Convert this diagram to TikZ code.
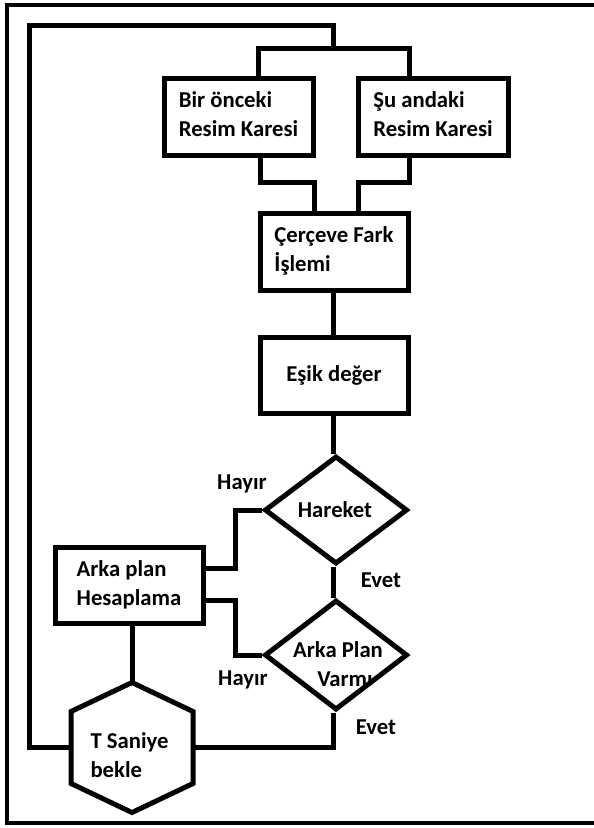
\documentclass[tikz,border=0pt]{standalone}
\usepackage{fontspec}
\setmainfont{Carlito}
\usetikzlibrary{shapes.geometric,calc}
\begin{document}
\begin{tikzpicture}[x=1pt,y=-1pt,
  line width=5pt,
  txt/.style={font=\bfseries\fontsize{22.7}{29}\selectfont},
  boxst/.style={draw,rectangle,line width=5pt,minimum width=148pt,minimum height=77pt,inner sep=0pt,txt},
  dia/.style={draw,diamond,line width=5pt,minimum width=143pt,minimum height=108pt,inner sep=0pt},
  lbl/.style={txt,inner sep=0pt}]
\useasboundingbox (0,0) rectangle (594,828);
\fill[white] (0,0) rectangle (594,828);
% outer frame
\draw[line width=4pt] (594,5) -- (6.5,5) -- (6.5,823) -- (594,823);
% nodes
\node[boxst,minimum width=149pt] (b1) at (238.5,116.5) {\begin{tabular}{@{}l@{}}Bir önceki\\Resim Karesi\end{tabular}};
\node[boxst,minimum width=150pt] (b2) at (433,116.5) {\begin{tabular}{@{}l@{}}Şu andaki\\Resim Karesi\end{tabular}};
\node[boxst] (b3) at (334,251.5) {\begin{tabular}{@{}l@{}}Çerçeve Fark\\İşlemi\end{tabular}};
\node[boxst,minimum height=76pt] (b4) at (334,375) {Eşik değer};
\node[dia] (d1) at (336,510) {};
\node[lbl] (t1) at (335,510) {Hareket};
\node[dia,minimum height=110pt] (d2) at (336,655) {};
\node[lbl] (t2) at (338,666) {\begin{tabular}{@{}c@{}}Arka Plan\\\hspace*{14pt}Varmı\end{tabular}};
\node[boxst,minimum height=76pt] (b5) at (129,585) {\begin{tabular}{@{}l@{}}Arka plan\\Hesaplama\end{tabular}};
\node[minimum width=117pt,minimum height=67pt,inner sep=0pt] (h) at (132,747.5) {};
\node[lbl,anchor=west] (t3) at (88,757) {\begin{tabular}{@{}l@{}}T Saniye\\bekle\end{tabular}};
\coordinate (htop) at ($(h.north)+(0,-29)$);
\coordinate (hbot) at ($(h.south)+(0,29)$);
\draw[line join=miter] (htop) -- (h.north east) -- (h.south east) -- (hbot) -- (h.south west) -- (h.north west) -- cycle;
% labels
\node[lbl] (l1) at (242,484) {Hayır};
\node[lbl] (l2) at (381,580) {Evet};
\node[lbl] (l3) at (243,680) {Hayır};
\node[lbl] (l4) at (376,727) {Evet};
% coordinates
\coordinate (lp) at (29,25);
\coordinate (tm) at (333,48);
\coordinate (tl) at (258,48);
\coordinate (tr) at (409,48);
\coordinate (bl) at (260,182);
\coordinate (bl2) at (314,182);
\coordinate (br) at (409,182);
\coordinate (br2) at (358,182);
\coordinate (j1) at (235,568);
\coordinate (j2) at (235,600);
% connectors
\draw[line join=miter] (h.west) -| (lp) -| (tm);
\draw[line join=miter] (tl |- b1.north) |- (tr) -- (tr |- b2.north);
\draw[line join=miter] (bl |- b1.south) -- (bl) -- (bl2) -- (bl2 |- b3.north);
\draw[line join=miter] (br |- b2.south) -- (br) -- (br2) -- (br2 |- b3.north);
\draw (b3.south -| tm) -- (b4.north -| tm);
\draw (b4.south -| tm) -- (d1.north -| tm);
\draw[line join=miter] (d1.west) -| (j1) -- (j1 -| b5.east);
\draw (d1.south -| tm) -- (d2.north -| tm);
\draw[line join=miter] (j2 -| b5.east) -- (j2) |- (d2.west);
\draw (b5.south -| htop) -- (htop);
\draw[line join=miter] (d2.south -| tm) |- (h.east);
\end{tikzpicture}
\end{document}
